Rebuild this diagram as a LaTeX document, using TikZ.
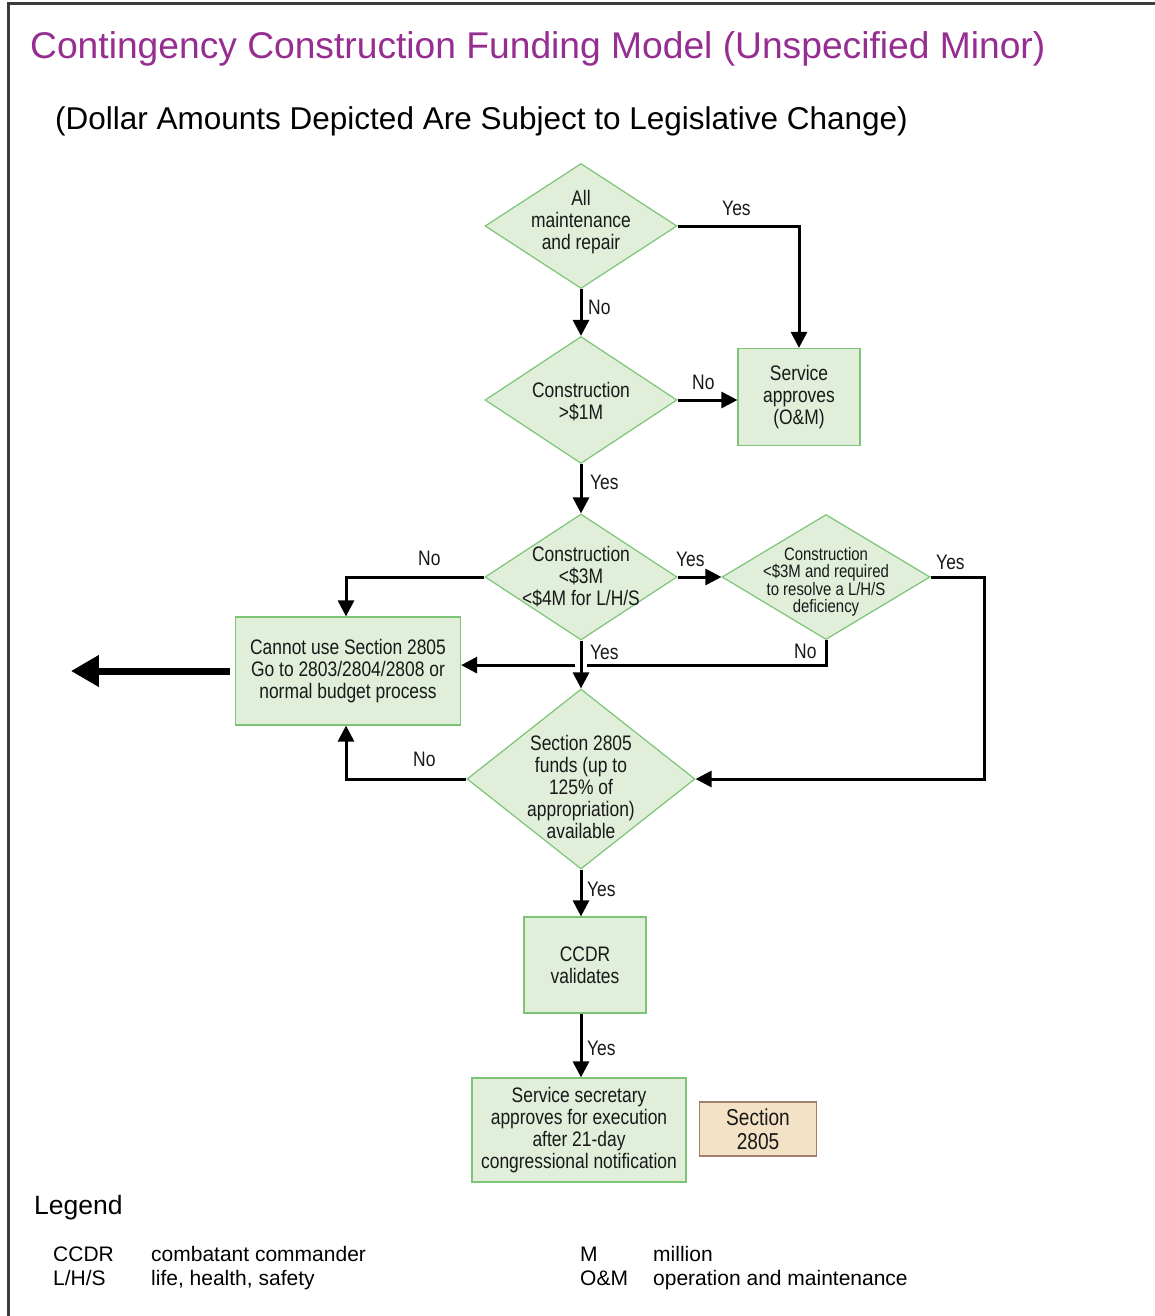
\documentclass[tikz,border=0pt]{standalone}
\usepackage{fontspec}
\setmainfont{Liberation Sans}
\newfontfamily\narrowfont{Liberation Sans}[FakeStretch=0.83]
\usetikzlibrary{shapes.geometric,arrows.meta}

\definecolor{boxfill}{RGB}{224,238,218}
\definecolor{boxline}{RGB}{125,196,118}
\definecolor{tanfill}{RGB}{244,226,198}
\definecolor{tanline}{RGB}{160,128,108}
\definecolor{titlepurple}{RGB}{150,45,145}
\definecolor{framegray}{RGB}{60,60,60}
\definecolor{inktext}{RGB}{25,25,25}

\begin{document}
\begin{tikzpicture}[x=1pt,y=-1pt,
  decision/.style={diamond, draw=boxline, fill=boxfill, line width=1.2pt, inner sep=0pt},
  process/.style={rectangle, draw=boxline, fill=boxfill, line width=1.2pt, inner sep=0pt,
    align=center, text=inktext, font=\narrowfont\fontsize{21}{22}\selectfont},
  dtext/.style={align=center, inner sep=0pt, text=inktext, font=\narrowfont\fontsize{21}{22}\selectfont},
  lbl/.style={anchor=west, inner sep=0pt, text=inktext, font=\narrowfont\fontsize{21}{22}\selectfont},
  conn/.style={line width=3pt},
  arr/.style={line width=3pt, -{Triangle[length=16pt,width=16pt]}},
  bigarr/.style={line width=7pt, -{Triangle[length=28pt,width=30pt]}},
  legtext/.style={anchor=base west, inner sep=0pt, font=\fontsize{21}{24}\selectfont}
]
\useasboundingbox (0,0) rectangle (1154,1316);
\fill[white] (0,0) rectangle (1154,1316);

% frame
\draw[framegray, line width=3pt] (8,1318) -- (8,4) -- (1156,4);

% headings
\node[anchor=base west, inner sep=0pt, text=titlepurple, font=\fontsize{37.2}{40}\selectfont] (title) at (30,59)
  {Contingency Construction Funding Model (Unspecified Minor)};
\node[anchor=base west, inner sep=0pt, font=\fontsize{31.5}{34}\selectfont] (subtitle) at (55,130)
  {(Dollar Amounts Depicted Are Subject to Legislative Change)};

% decisions
\node[decision, minimum width=192pt, minimum height=125pt] (d1) at (581,226) {};
\node[dtext] (d1t) at (581,222) {All\\maintenance\\and repair};
\node[decision, minimum width=192pt, minimum height=127pt] (d2) at (581,400) {};
\node[dtext] (d2t) at (581,402) {Construction\\>\$1M};
\node[decision, minimum width=192pt, minimum height=126pt] (d3) at (581,577) {};
\node[dtext] (d3t) at (581,577) {Construction\\<\$3M\\<\$4M for L/H/S};
\node[decision, minimum width=208pt, minimum height=125pt] (d4) at (826,577) {};
\node[dtext, font=\narrowfont\fontsize{18}{17.5}\selectfont] (d4t) at (826,582)
  {Construction\\<\$3M and required\\to resolve a L/H/S\\deficiency};
\node[decision, minimum width=228pt, minimum height=180pt] (d5) at (581,779) {};
\node[dtext] (d5t) at (581,787) {Section 2805\\funds (up to\\125\% of\\appropriation)\\available};

% process boxes
\node[process, minimum width=122pt, minimum height=97pt] (b1) at (799,397) {Service\\approves\\(O\&M)};
\node[process, minimum width=225pt, minimum height=108pt] (b2) at (348,671)
  {Cannot use Section 2805\\Go to 2803/2804/2808 or\\normal budget process};
\node[process, minimum width=122pt, minimum height=96pt] (b3) at (585,965) {CCDR\\validates};
\node[process, minimum width=214pt, minimum height=104pt] (b4) at (579,1130)
  {Service secretary\\approves for execution\\after 21-day\\congressional notification};
\node[process, draw=tanline, fill=tanfill, font=\narrowfont\fontsize{23}{24}\selectfont,
  minimum width=117pt, minimum height=54pt] (b5) at (758,1129) {Section\\2805};

% helper points for the connectors
\path (d4.south) ++(0,25) coordinate (j4);
\path (d3.south |- j4) ++(6,0) coordinate (gapR) ++(-12,0) coordinate (gapL);
\path (d4.east) ++(54,0) coordinate (j5);
\path (b2.west) ++(-5,0) coordinate (out1) ++(-159,0) coordinate (out2);

% connectors
\draw[arr] (d1.east) -| (b1.north);
\draw[arr] (d1.south) -- (d2.north);
\draw[arr] (d2.east) -- (b1.west |- d2.east);
\draw[arr] (d2.south) -- (d3.north);
\draw[arr] (d3.east) -- (d4.west);
\draw[arr] (d3.west) -| ([xshift=-2pt]b2.north);
\draw[conn] (d4.south) |- (gapR);
\draw[arr] (gapL) -- (b2.east |- gapL);
\draw[arr] (d3.south) -- (d5.north);
\draw[arr] (d4.east) -- (j5) |- (d5.east);
\draw[arr] (d5.west) -| ([xshift=-2pt]b2.south);
\draw[arr] (d5.south) -- (d5.south |- b3.north);
\draw[arr] (d5.south |- b3.south) -- (d5.south |- b4.north);
\draw[bigarr] (out1) -- (out2);

% connector labels
\node[lbl] (y1) at (722,208) {Yes};
\node[lbl] (n1) at (588,307) {No};
\node[lbl] (n2) at (692,382) {No};
\node[lbl] (y2) at (590,482) {Yes};
\node[lbl] (y3) at (676,559) {Yes};
\node[lbl] (n3) at (418,558) {No};
\node[lbl] (y4) at (590,652) {Yes};
\node[lbl] (n4) at (794,651) {No};
\node[lbl] (y5) at (936,562) {Yes};
\node[lbl] (n5) at (413,759) {No};
\node[lbl] (y6) at (587,889) {Yes};
\node[lbl] (y7) at (587,1048) {Yes};

% legend
\node[anchor=base west, inner sep=0pt, font=\fontsize{26.5}{28}\selectfont] (legend) at (34,1214) {Legend};
\node[legtext] (k1) at (53,1261) {CCDR};
\node[legtext] (v1) at (151,1261) {combatant commander};
\node[legtext] (k2) at (53,1285) {L/H/S};
\node[legtext] (v2) at (151,1285) {life, health, safety};
\node[legtext] (k3) at (580,1261) {M};
\node[legtext] (v3) at (653,1261) {million};
\node[legtext] (k4) at (580,1285) {O\&M};
\node[legtext] (v4) at (653,1285) {operation and maintenance};
\end{tikzpicture}
\end{document}
